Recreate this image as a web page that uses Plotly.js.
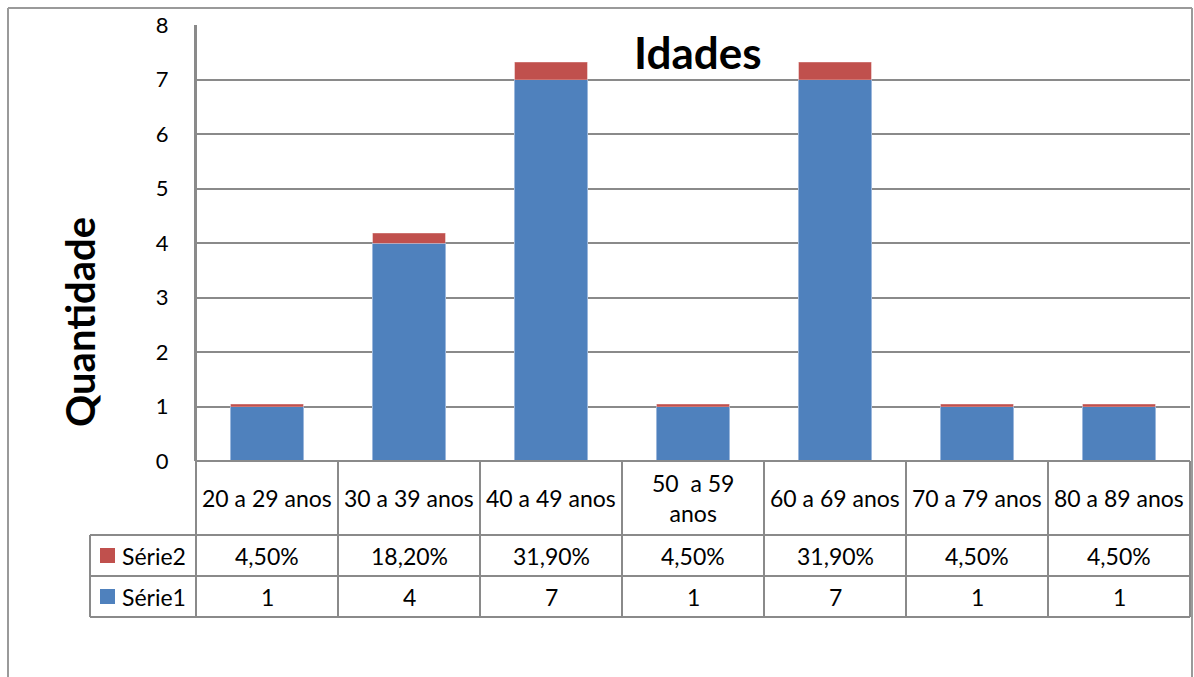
<!DOCTYPE html>
<html>
<head>
<meta charset="utf-8">
<script src="https://cdn.plot.ly/plotly-3.0.1.min.js"></script>
<style>html,body{margin:0;padding:0;background:#fff;}#chart{width:1194px;height:677px;}</style>
</head>
<body>
<div id="chart"></div>
<script>
// ---- data ----
const categories = ["20 a 29 anos", "30 a 39 anos", "40 a 49 anos", "50  a 59<br>anos", "60 a 69 anos", "70 a 79 anos", "80 a 89 anos"];
const serie1 = [1, 4, 7, 1, 7, 1, 1];
const serie2Pct = [4.5, 18.2, 31.9, 4.5, 31.9, 4.5, 4.5];
const yTicks = [0, 1, 2, 3, 4, 5, 6, 7, 8];
const seriesNames = ["Série1", "Série2"];
const titleText = "Idades";
const yTitleText = "Quantidade";

// ---- layout geometry (pixels) ----
const W = 1194, H = 677;
const L = 196, R = 1190, T = 25, B = 461;
const pw = R - L, ph = B - T;
const px = x => (x - L) / pw;
const py = y => (B - y) / ph;
const n = categories.length;
const colX = i => i / n;            // column boundary (paper)
const colC = i => (i + 0.5) / n;    // column centre (paper)

const blue = "#4F81BD", red = "#C0504D";
const grid = "#8a8a8a";
const font = "Lato, 'Open Sans', sans-serif";

const traces = [
  {type: "bar", x: categories.map((c, i) => i), y: serie1, name: seriesNames[0],
   marker: {color: blue, line: {color: "#9bb7dc", width: 1}}, hoverinfo: "skip"},
  {type: "bar", x: categories.map((c, i) => i), y: serie2Pct.map(v => v / 100), name: seriesNames[1],
   marker: {color: red, line: {color: "#d99694", width: 0.5}}, hoverinfo: "skip"}
];

const rowTop = 535, row2 = 576, row3 = 617, labL = 90;
const shapes = [];
const line = (x0, y0, x1, y1, c, w) => shapes.push({type: "line", xref: "paper", yref: "paper",
  x0: x0, y0: y0, x1: x1, y1: y1, line: {color: c || grid, width: w || 2}, layer: "above"});

// outer chart border
line(px(8), py(8), px(1192), py(8), "#9a9a9a", 2);
line(px(8), py(8), px(8), py(H + 5), "#9a9a9a", 2);
line(px(1192), py(8), px(1192), py(H + 5), "#9a9a9a", 2);

// table horizontal lines
line(0, 0, 1, 0);
line(px(labL), py(rowTop), 1, py(rowTop));
line(px(labL), py(row2), 1, py(row2));
line(px(labL), py(row3), 1, py(row3));
// table vertical lines
line(0, 1, 0, py(row3));
for (let i = 1; i <= n; i++) line(colX(i), 0, colX(i), py(row3));
line(px(labL), py(rowTop), px(labL), py(row3));
// legend keys
shapes.push({type: "rect", xref: "paper", yref: "paper", x0: px(100), x1: px(115), y0: py(548), y1: py(563),
  fillcolor: red, line: {width: 0}});
shapes.push({type: "rect", xref: "paper", yref: "paper", x0: px(100), x1: px(115), y0: py(589), y1: py(604),
  fillcolor: blue, line: {width: 0}});

const annotations = [];
const txt = (x, y, t, opts) => annotations.push(Object.assign({xref: "paper", yref: "paper", x: x, y: y,
  text: t, showarrow: false, font: {family: font, size: 23, color: "#000"}, xanchor: "center", yanchor: "middle"}, opts || {}));

const fmtPct = v => v.toFixed(2).replace(".", ",") + "%";
categories.forEach((c, i) => {
  txt(colC(i), py((B + rowTop) / 2), c);
  txt(colC(i), py((rowTop + row2) / 2), fmtPct(serie2Pct[i]));
  txt(colC(i), py((row2 + row3) / 2), String(serie1[i]));
});
txt(px(120), py((rowTop + row2) / 2), seriesNames[1], {xanchor: "left"});
txt(px(120), py((row2 + row3) / 2), seriesNames[0], {xanchor: "left"});

// title
txt(px(698), py(52), "<b>" + titleText + "</b>", {font: {family: font, size: 44, color: "#000"}});
// y axis title
txt(px(80), py(322), "<b>" + yTitleText + "</b>", {font: {family: font, size: 40, color: "#000"}, textangle: -90});

const layout = {
  width: W, height: H,
  margin: {l: L, r: W - R, t: T, b: H - B, pad: 0},
  paper_bgcolor: "#fff", plot_bgcolor: "#fff",
  barmode: "stack", bargap: 0.486,
  showlegend: false,
  xaxis: {range: [-0.5, n - 0.5], showticklabels: false, showgrid: false, zeroline: false, showline: false, fixedrange: true},
  yaxis: {range: [0, 8], tickvals: yTicks, ticktext: yTicks.map(String), showgrid: true, gridcolor: grid, gridwidth: 2,
    zeroline: false, showline: true, linecolor: grid, linewidth: 2, ticks: "outside", ticklen: 21,
    tickcolor: "rgba(0,0,0,0)", tickfont: {family: font, size: 22, color: "#000"}, fixedrange: true},
  shapes: shapes,
  annotations: annotations,
  font: {family: font}
};

Plotly.newPlot("chart", traces, layout, {displayModeBar: false, staticPlot: true});
</script>
</body>
</html>
